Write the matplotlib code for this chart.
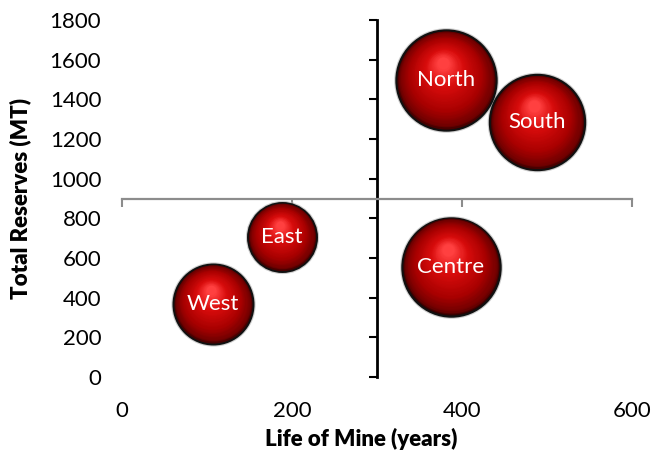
import numpy as np
import matplotlib
matplotlib.use("Agg")
import matplotlib.pyplot as plt
from matplotlib import transforms
from matplotlib.colors import LinearSegmentedColormap

# ---- data ----
regions = ["West", "East", "North", "South", "Centre"]
life_of_mine = [107, 188, 381, 488, 387]          # years
total_reserves = [368, 706, 1497, 1286, 556]      # MT
bubble_size = [3300, 2450, 5200, 4700, 5000]      # relative bubble area

x_ticks = [0, 200, 400, 600]
y_ticks = [0, 200, 400, 600, 800, 1000, 1200, 1400, 1600, 1800]
x_cross = 300   # vertical axis crosses at
y_cross = 900   # horizontal axis crosses at

plt.rcParams['font.family'] = ['Lato', 'DejaVu Sans']

fig = plt.figure(figsize=(6.52, 4.54), dpi=100)
ax = fig.add_axes([122/652, 1-377/454, 510/652, 357/454])
ax.set_xlim(0, 600)
ax.set_ylim(0, 1800)

# spines crossing in the middle
for s in ['top', 'right']:
    ax.spines[s].set_visible(False)
ax.spines['left'].set_position(('data', x_cross))
ax.spines['left'].set_color('black')
ax.spines['left'].set_linewidth(2)
ax.spines['bottom'].set_position(('data', y_cross))
ax.spines['bottom'].set_color('#8c8c8c')
ax.spines['bottom'].set_linewidth(1.6)

ax.set_xticks(x_ticks)
ax.set_yticks(y_ticks)
ax.tick_params(axis='y', direction='out', length=5.5, width=1.5, color='black',
               labelsize=16, pad=193, labelcolor='black')
ax.tick_params(axis='x', direction='out', length=5.5, width=1.5, color='#8c8c8c',
               labelsize=16, pad=140, labelcolor='black')

ax.set_xlabel("Life of Mine (years)", fontsize=16, fontweight='heavy')
ax.xaxis.label.set_va('baseline')
ax.xaxis.set_label_coords((361-122)/510, (377-446)/357)
ax.set_ylabel("Total Reserves (MT)", fontsize=16, fontweight='heavy')
ax.yaxis.label.set_va('center')
ax.yaxis.set_label_coords((20-122)/510, 0.5)

# ---- 3D-looking bubbles ----
cmap = LinearSegmentedColormap.from_list(
    'ball', [(0.0, '#300000'), (0.06, '#700000'), (0.3, '#a80000'),
             (0.7, '#d80c0c'), (1.0, '#ff4040')])
n_layers = 40
for x, y, s, lab in zip(life_of_mine, total_reserves, bubble_size, regions):
    r_pt = np.sqrt(s) / 2.0
    # soft shadow ring
    ax.scatter([x], [y], s=(2*(r_pt+1.6))**2, color='#b0b0b0', alpha=0.6,
               linewidths=0, zorder=2)
    ax.scatter([x], [y], s=s, color='#300000', edgecolors='#111111',
               linewidths=1.6, zorder=3)
    for k in range(1, n_layers):
        t = k / (n_layers - 1)
        rad = r_pt * (1 - 0.88 * t)
        dy = 0.34 * r_pt * t
        dx = -0.06 * r_pt * t
        tr = transforms.offset_copy(ax.transData, fig=fig, x=dx, y=dy, units='points')
        ax.scatter([x], [y], s=(2*rad)**2, color=cmap(t), linewidths=0,
                   transform=tr, zorder=3)
    ax.text(x, y, lab, color='white', fontsize=16, ha='center', va='center',
            zorder=5)

fig.savefig("out.png", dpi=100)
